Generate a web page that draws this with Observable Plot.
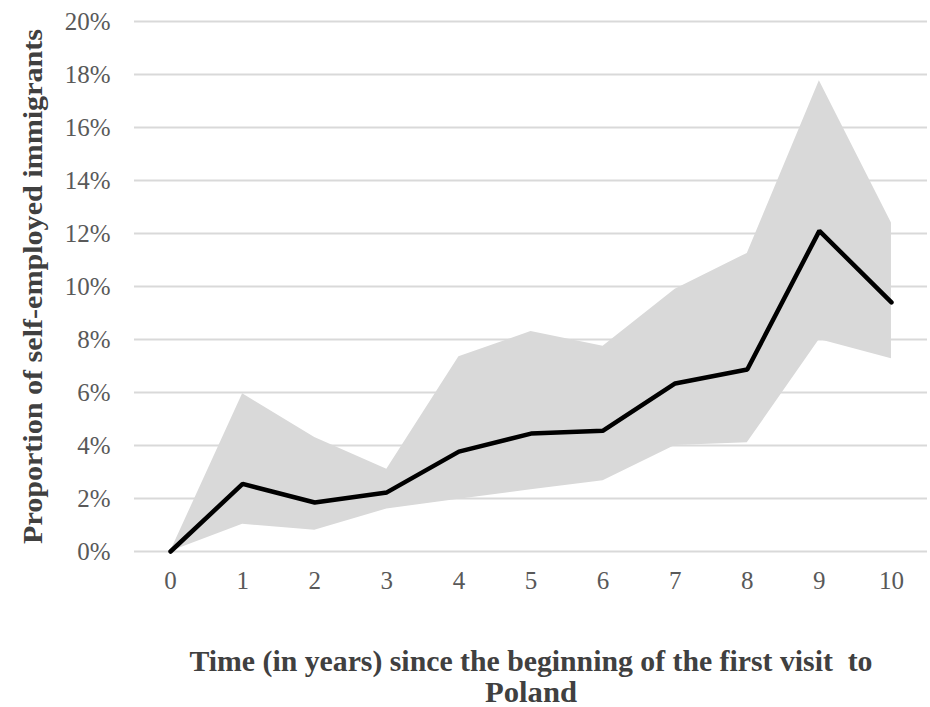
<!DOCTYPE html>
<html>
<head>
<meta charset="utf-8">
<script src="https://cdn.jsdelivr.net/npm/d3@7"></script>
<script src="https://cdn.jsdelivr.net/npm/@observablehq/plot@0.6"></script>
<style>
  html, body { margin: 0; padding: 0; background: #ffffff; }
</style>
</head>
<body>
<div id="chart"></div>
<script>
const years = [0, 1, 2, 3, 4, 5, 6, 7, 8, 9, 10];
const meanShare = [0, 2.55, 1.85, 2.23, 3.77, 4.45, 4.56, 6.34, 6.87, 12.1, 9.4];
const upperShare = [0, 5.95, 4.3, 3.1, 7.35, 8.3, 7.75, 9.9, 11.25, 17.76, 12.4];
const lowerShare = [0, 1.03, 0.8, 1.6, 1.97, 2.33, 2.67, 4.0, 4.1, 8.0, 7.27];
const yTicks = [0, 2, 4, 6, 8, 10, 12, 14, 16, 18, 20];
const yTitle = "Proportion of self-employed immigrants";
const xTitle = "Time (in years) since the beginning of the first visit  to\nPoland";

const data = years.map((year, i) => ({
  year, mean: meanShare[i], upper: upperShare[i], lower: lowerShare[i]
}));

const chart = Plot.plot({
  width: 930,
  height: 707,
  marginTop: 21,
  marginBottom: 156,
  marginLeft: 134,
  marginRight: 3,
  style: { fontFamily: "'Liberation Serif', serif", fontSize: "25px", color: "#595959", background: "#ffffff" },
  x: { domain: [-0.5, 10.5] },
  y: { domain: [0, 20] },
  marks: [
    Plot.gridY(yTicks, { stroke: "#d9d9d9", strokeOpacity: 1, strokeWidth: 2 }),
    Plot.areaY(data, { x: "year", y1: "lower", y2: "upper", fill: "#d9d9d9", fillOpacity: 1 }),
    Plot.lineY(data, { x: "year", y: "mean", stroke: "#000000", strokeWidth: 4.5, strokeLinejoin: "miter" }),
    Plot.axisX(years, { tickSize: 0, tickPadding: 20, tickFormat: d => String(d), label: null, fill: "#595959" }),
    Plot.axisY(yTicks, { tickSize: 0, tickPadding: 24, tickFormat: d => d + "%", label: null, fill: "#595959" }),
    Plot.text([yTitle], { text: d => d, frameAnchor: "left", textAnchor: "middle", rotate: -90, dx: -101, fontWeight: "bold", fontSize: 27, fill: "#404040", className: "ytitle" }),
    Plot.text([xTitle], { text: d => d, frameAnchor: "bottom", lineAnchor: "top", dy: 97, fontWeight: "bold", fontSize: 30, lineHeight: 1.05, fill: "#404040", className: "xtitle" })
  ]
});
document.getElementById("chart").appendChild(chart);

// condensed look of the original's titles
d3.select(chart).selectAll(".ytitle text")
  .attr("textLength", 515).attr("lengthAdjust", "spacingAndGlyphs");
const xt = d3.select(chart).selectAll(".xtitle tspan").nodes();
if (xt.length === 2) {
  d3.select(xt[0]).attr("textLength", 683).attr("lengthAdjust", "spacingAndGlyphs");
  d3.select(xt[1]).attr("textLength", 92).attr("lengthAdjust", "spacingAndGlyphs");
}
</script>
</body>
</html>
